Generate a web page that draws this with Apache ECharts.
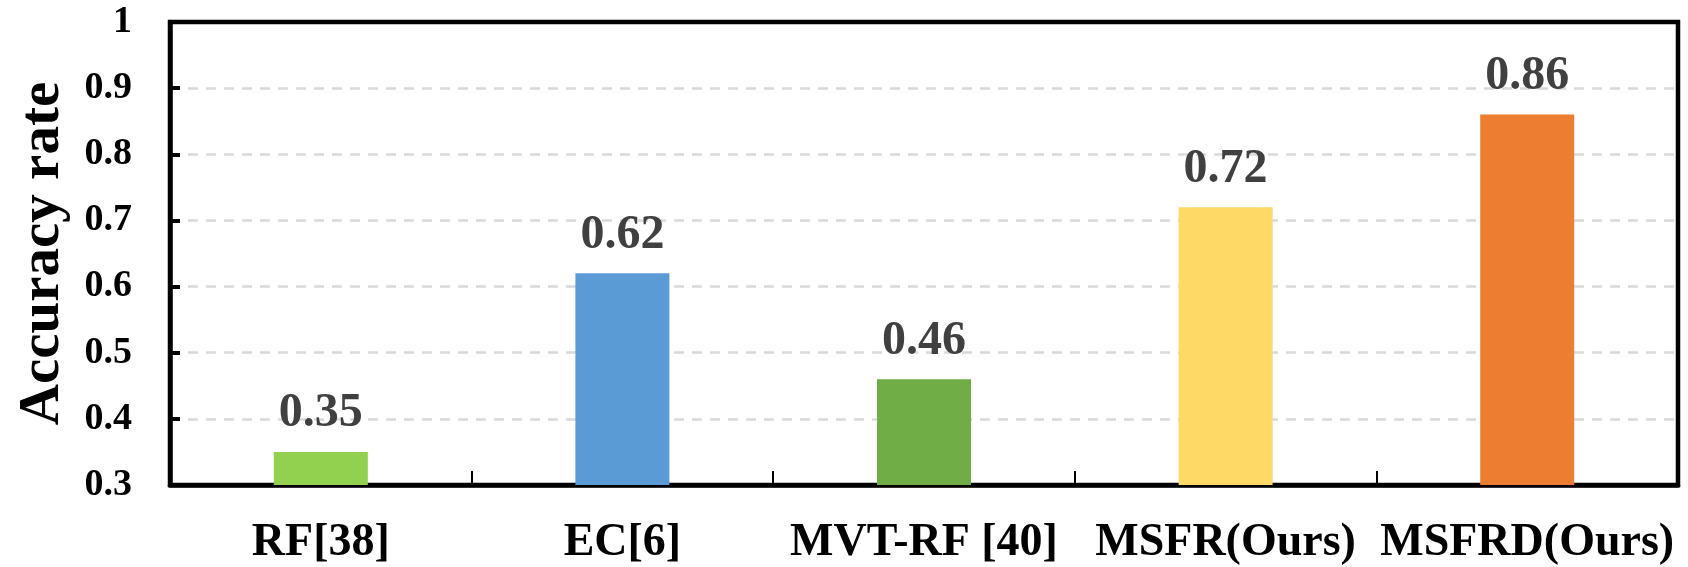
<!DOCTYPE html>
<html>
<head>
<meta charset="utf-8">
<script src="https://cdn.jsdelivr.net/npm/echarts@6/dist/echarts.min.js"></script>
<style>
  html, body { margin: 0; padding: 0; background: #fff; }
  #chart { width: 1688px; height: 567px; }
</style>
</head>
<body>
<div id="chart"></div>
<script>
// Method names along the x axis
const categories = ['RF[38]', 'EC[6]', 'MVT-RF [40]', 'MSFR(Ours)', 'MSFRD(Ours)'];
// Accuracy of each method
const accuracy = [0.35, 0.62, 0.46, 0.72, 0.86];
// Fill colour of each bar
const barColors = ['#92d050', '#5b9bd5', '#70ad47', '#ffd966', '#ed7d31'];
// Value-axis ticks
const yTicks = [0.3, 0.4, 0.5, 0.6, 0.7, 0.8, 0.9, 1];

const FONT = "'Liberation Serif', 'Times New Roman', serif";

const chart = echarts.init(document.getElementById('chart'), null, { renderer: 'canvas' });

chart.setOption({
  backgroundColor: '#ffffff',
  animation: false,
  grid: {
    left: 170, right: 10, top: 22, bottom: 82,
    show: true,
    borderColor: '#000',
    borderWidth: 4.5,
    backgroundColor: 'transparent'
  },
  xAxis: {
    type: 'category',
    data: categories,
    axisLine: { show: true, lineStyle: { color: '#000', width: 4.5 } },
    axisTick: { show: true, inside: true, length: 14, lineStyle: { color: '#000', width: 2 } },
    axisLabel: {
      margin: 35,
      color: '#000',
      fontFamily: FONT,
      fontWeight: 'bold',
      fontSize: 46,
      interval: 0
    },
    splitLine: { show: false }
  },
  yAxis: {
    type: 'value',
    min: yTicks[0],
    max: yTicks[yTicks.length - 1],
    interval: 0.1,
    name: 'Accuracy rate',
    nameLocation: 'middle',
    nameRotate: 90,
    nameGap: 98,
    nameTextStyle: {
      color: '#000',
      fontFamily: FONT,
      fontWeight: 'bold',
      fontSize: 57
    },
    axisLine: { show: true, lineStyle: { color: '#000', width: 4.5 } },
    axisTick: { show: true, inside: true, length: 10, lineStyle: { color: '#000', width: 4 } },
    axisLabel: {
      margin: 38,
      color: '#000',
      fontFamily: FONT,
      fontWeight: 'bold',
      fontSize: 38,
      formatter: function (v) { return String(Math.round(v * 10) / 10); }
    },
    splitLine: {
      show: true,
      showMinLine: false,
      showMaxLine: false,
      lineStyle: { color: '#d9d9d9', width: 2.5, type: [10, 8] }
    }
  },
  series: [{
    type: 'bar',
    barWidth: 94,
    data: accuracy.map(function (v, i) {
      return { value: v, itemStyle: { color: barColors[i] } };
    }),
    label: {
      show: true,
      position: 'top',
      distance: 14,
      color: '#404040',
      fontFamily: FONT,
      fontWeight: 'bold',
      fontSize: 48,
      formatter: function (p) { return p.value.toFixed(2); }
    }
  }]
});
</script>
</body>
</html>
